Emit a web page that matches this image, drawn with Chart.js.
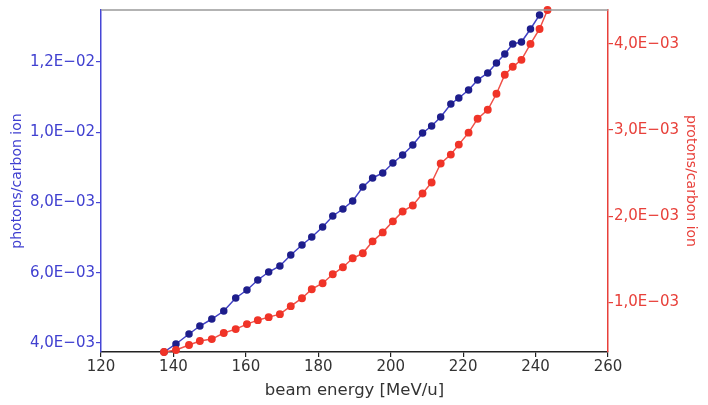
<!DOCTYPE html>
<html>
<head>
<meta charset="utf-8">
<script src="https://cdn.jsdelivr.net/npm/chart.js@4/dist/chart.umd.min.js"></script>
<style>
html,body{margin:0;padding:0;background:#fff;}
#wrap{width:708px;height:405px;}
</style>
</head>
<body>
<div id="wrap"><canvas id="c" width="708" height="405"></canvas></div>
<script>
// beam energy [MeV/u]
const photonEnergy = [137.4,140.7,144.3,147.3,150.6,153.9,157.2,160.3,163.3,166.3,169.4,172.4,175.5,178.2,181.2,184.0,186.8,189.5,192.3,195.0,197.8,200.6,203.3,206.1,208.8,211.3,213.8,216.6,218.8,221.5,224.0,226.8,229.2,231.5,233.7,236.1,238.6,241.1];
const photonsPerIon = [0.003744,0.003972,0.004256,0.004484,0.004683,0.004911,0.005281,0.005509,0.005794,0.006021,0.006192,0.006505,0.006790,0.007018,0.007302,0.007616,0.007815,0.008043,0.008441,0.008698,0.008840,0.009125,0.009352,0.009637,0.009979,0.010178,0.010434,0.010804,0.010975,0.011203,0.011488,0.011687,0.011972,0.012228,0.012513,0.012570,0.012940,0.013339];
const protonEnergy = [137.4,140.7,144.3,147.3,150.6,153.9,157.2,160.3,163.3,166.3,169.4,172.4,175.5,178.2,181.2,184.0,186.8,189.5,192.3,195.0,197.8,200.6,203.3,206.1,208.8,211.3,213.8,216.6,218.8,221.5,224.0,226.8,229.2,231.5,233.7,236.1,238.6,241.1,243.3];
const protonsPerIon = [0.000421,0.000444,0.000502,0.000548,0.000571,0.000641,0.000687,0.000745,0.000791,0.000826,0.000861,0.000954,0.001046,0.001151,0.001220,0.001324,0.001406,0.001510,0.001568,0.001707,0.001811,0.001939,0.002054,0.002124,0.002263,0.002391,0.002611,0.002715,0.002831,0.002970,0.003132,0.003236,0.003422,0.003642,0.003735,0.003816,0.004001,0.004175,0.004395];
const xTicks = [120,140,160,180,200,220,240,260];
const leftTicks = [0.004,0.006,0.008,0.010,0.012];
const rightTicks = [0.001,0.002,0.003,0.004];

const BLUE_AX = '#4646d6';
const RED_AX = '#e8403a';

function fmtE(v){
  const s = Number(v).toExponential(1);
  const [m, e] = s.split('e');
  const ei = parseInt(e,10);
  const sign = ei < 0 ? '\u2212' : '+';
  const ea = String(Math.abs(ei)).padStart(2,'0');
  return m.replace('.', ',') + 'E' + sign + ea;
}

const framePlugin = {
  id:'frameTop',
  afterDraw(chart){
    const {ctx, chartArea:a} = chart;
    ctx.save();
    ctx.strokeStyle = '#9a9a9a';
    ctx.lineWidth = 1.5;
    ctx.beginPath();
    ctx.moveTo(a.left, a.top);
    ctx.lineTo(a.right, a.top);
    ctx.stroke();
    ctx.restore();
  }
};

new Chart(document.getElementById('c'), {
  type:'line',
  data:{
    datasets:[
      {
        label:'photons/carbon ion',
        data: photonEnergy.map((x,i)=>({x, y: photonsPerIon[i]})),
        yAxisID:'yL',
        order:2,
        borderColor:'#4040c4',
        backgroundColor:'#1e1e8c',
        pointBackgroundColor:'#1e1e8c',
        pointBorderColor:'#1e1e8c',
        pointRadius:3,
        borderWidth:1.5,
        tension:0,
        clip:false
      },
      {
        label:'protons/carbon ion',
        data: protonEnergy.map((x,i)=>({x, y: protonsPerIon[i]})),
        yAxisID:'yR',
        order:1,
        borderColor:'#f05048',
        backgroundColor:'#f03428',
        pointBackgroundColor:'#f03428',
        pointBorderColor:'#f03428',
        pointRadius:3.2,
        borderWidth:1.5,
        tension:0,
        clip:false
      }
    ]
  },
  options:{
    responsive:false,
    animation:false,
    layout:{padding:{top:10,left:0,right:0,bottom:0}},
    plugins:{legend:{display:false},tooltip:{enabled:false}},
    scales:{
      x:{
        type:'linear',
        min:120,max:260,
        afterBuildTicks(s){ s.ticks = xTicks.map(v=>({value:v})); },
        afterFit(s){ s.height = 53; },
        border:{display:true,color:'#222',width:1.5},
        grid:{drawOnChartArea:false,drawTicks:true,tickLength:5,color:'#222',lineWidth:1.2},
        ticks:{color:'#333',font:{family:'DejaVu Sans',size:15},padding:1,maxRotation:0},
        title:{display:true,text:'beam energy [MeV/u]',color:'#333',font:{family:'DejaVu Sans',size:16.5},padding:{top:4,bottom:4}}
      },
      yL:{
        type:'linear',position:'left',
        min:0.003744,max:0.01348,
        afterBuildTicks(s){ s.ticks = leftTicks.map(v=>({value:v})); },
        afterFit(s){ s.width = 101; },
        border:{display:true,color:BLUE_AX,width:1.5},
        grid:{drawOnChartArea:false,drawTicks:true,tickLength:5,color:BLUE_AX,lineWidth:1.2},
        ticks:{color:'#4040d0',font:{family:'DejaVu Sans',size:15},padding:1,callback:v=>fmtE(v)},
        title:{display:true,text:'photons/carbon ion',color:'#4040d0',font:{family:'DejaVu Sans',size:14},padding:{top:9,bottom:2}}
      },
      yR:{
        type:'linear',position:'right',
        min:0.000421,max:0.004395,
        afterBuildTicks(s){ s.ticks = rightTicks.map(v=>({value:v})); },
        afterFit(s){ s.width = 100; },
        border:{display:true,color:RED_AX,width:1.5},
        grid:{drawOnChartArea:false,drawTicks:true,tickLength:5,color:RED_AX,lineWidth:1.2},
        ticks:{color:'#e8403a',font:{family:'DejaVu Sans',size:15},padding:1,callback:v=>fmtE(v)},
        title:{display:true,text:'protons/carbon ion',color:'#e8403a',font:{family:'DejaVu Sans',size:14},padding:{top:9,bottom:2}}
      }
    }
  },
  plugins:[framePlugin]
});
</script>
</body>
</html>
